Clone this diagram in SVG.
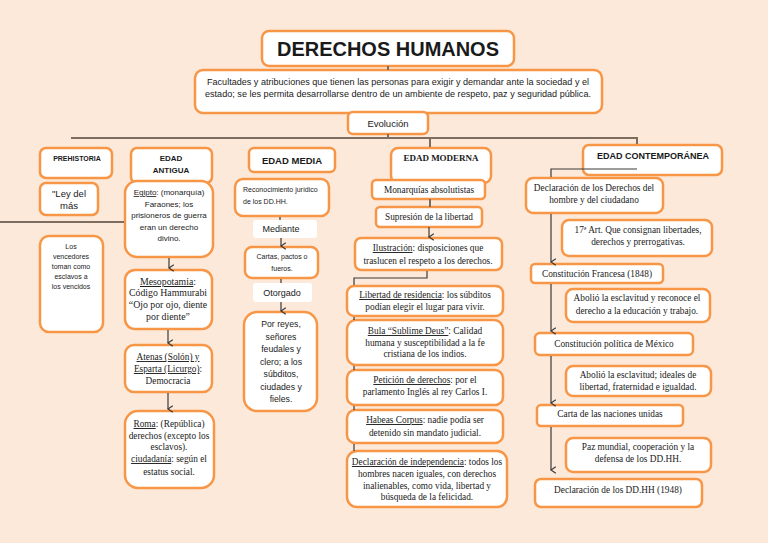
<svg xmlns="http://www.w3.org/2000/svg" width="768" height="543" viewBox="0 0 768 543">
<defs>
<style>
.b{fill:#fff;stroke:#f79646;stroke-width:2.5}
.lb{fill:#fff;stroke:none}
.s{font-family:"Liberation Sans",Arial,sans-serif;fill:#1a1a1a;text-anchor:middle}
.r{font-family:"Liberation Serif","Times New Roman",serif;fill:#1a1a1a;text-anchor:middle;font-size:9.3px}
.u{text-decoration:underline}
.m{stroke:#7d6d60;stroke-width:2;fill:none}
.k{stroke:#3a3a3a;stroke-width:1.2;fill:none}
</style>
<marker id="v" viewBox="0 0 10 10" refX="5" refY="9" markerWidth="8" markerHeight="8" markerUnits="userSpaceOnUse" orient="auto-start-reverse">
<path d="M1,3 L5,9 L9,3" fill="none" stroke="#3a3a3a" stroke-width="1.5"/>
</marker>
</defs>
<rect width="768" height="543" fill="#fde9d9"/>

<g id="titulo"><rect class="b" x="262" y="31" width="252" height="35" rx="7"/><text class="s" x="388" y="56" font-size="21" font-weight="bold" textLength="222" lengthAdjust="spacingAndGlyphs">DERECHOS HUMANOS</text></g>
<g id="definicion"><rect class="b" x="195" y="70" width="407" height="43" rx="8"/><text class="s" font-size="9"><tspan x="398" y="85" textLength="382" lengthAdjust="spacingAndGlyphs">Facultades y atribuciones que tienen las personas para exigir y demandar ante la sociedad y el</tspan><tspan x="398" y="97" textLength="386" lengthAdjust="spacingAndGlyphs">estado; se les permita desarrollarse dentro de un ambiente de respeto, paz y seguridad pública.</tspan></text></g>
<g id="evolucion"><rect class="b" x="348" y="112" width="80" height="22" rx="5"/><text class="s" x="388" y="127" font-size="9.5">Evolución</text></g>

<g id="prehistoria"><rect class="b" x="40" y="148" width="72" height="30" rx="6"/><text class="s" x="77" y="161" font-size="7" font-weight="bold">PREHISTORIA</text></g>
<g id="ley"><rect class="b" x="40" y="183" width="58" height="32" rx="6"/><text class="s" font-size="9.5"><tspan x="69" y="197">"Ley del</tspan><tspan x="69" y="209">más</tspan></text></g>
<g id="vencedores"><rect class="b" x="40" y="236" width="63" height="96" rx="9"/><text class="s" font-size="7"><tspan x="71" y="249">Los</tspan><tspan x="71" y="259">vencedores</tspan><tspan x="71" y="269">toman como</tspan><tspan x="71" y="279">esclavos a</tspan><tspan x="71" y="289">los vencidos</tspan></text></g>

<g id="antigua"><rect class="b" x="131" y="148" width="81" height="35" rx="6"/><text class="s" font-size="8" font-weight="bold"><tspan x="171" y="161">EDAD</tspan><tspan x="171" y="173">ANTIGUA</tspan></text></g>
<g id="egipto"><rect class="b" x="125" y="181" width="88" height="76" rx="12"/><text class="s" font-size="8"><tspan x="169" y="195"><tspan class="u">Egipto</tspan>: (monarquía)</tspan><tspan x="169" y="207">Faraones; los</tspan><tspan x="169" y="218">prisioneros de guerra</tspan><tspan x="169" y="230">eran un derecho</tspan><tspan x="169" y="241">divino.</tspan></text></g>
<g id="mesopotamia"><rect class="b" x="125" y="270" width="87" height="59" rx="10"/><text class="r" style="font-size:9.8px"><tspan x="168" y="285"><tspan class="u">Mesopotamia</tspan>:</tspan><tspan x="168" y="296">Código Hammurabi</tspan><tspan x="168" y="308">“Ojo por ojo, diente</tspan><tspan x="168" y="320">por diente”</tspan></text></g>
<g id="atenas"><rect class="b" x="125" y="345" width="87" height="47" rx="9"/><text class="r"><tspan x="168" y="360" class="u">Atenas (Solón) y</tspan><tspan x="168" y="372"><tspan class="u">Esparta (Licurgo)</tspan>:</tspan><tspan x="168" y="384">Democracia</tspan></text></g>
<g id="roma"><rect class="b" x="125" y="411" width="89" height="77" rx="13"/><text class="r"><tspan x="169" y="427"><tspan class="u">Roma</tspan>: (República)</tspan><tspan x="169" y="439">derechos (excepto los</tspan><tspan x="169" y="450">esclavos).</tspan><tspan x="169" y="462"><tspan class="u">ciudadanía</tspan>: según el</tspan><tspan x="169" y="475">estatus social.</tspan></text></g>

<g id="media"><rect class="b" x="249" y="148" width="86" height="24" rx="5"/><text class="s" x="292" y="164" font-size="9.5" font-weight="bold">EDAD MEDIA</text></g>
<g id="reconocimiento"><rect class="b" x="235" y="179" width="94" height="37" rx="8"/><text class="s" font-size="7" style="text-anchor:start"><tspan x="243" y="192">Reconocimiento jurídico</tspan><tspan x="243" y="204">de los DD.HH.</tspan></text></g>
<g id="mediante"><rect class="lb" x="253" y="220" width="64" height="18" rx="3"/><text class="s" x="281" y="232" font-size="9">Mediante</text></g>
<g id="cartas"><rect class="b" x="245" y="247" width="73" height="31" rx="7"/><text class="s" font-size="7"><tspan x="282" y="259">Cartas, pactos o</tspan><tspan x="282" y="271">fueros.</tspan></text></g>
<g id="otorgado"><rect class="lb" x="253" y="283" width="59" height="19" rx="3"/><text class="s" x="282" y="296" font-size="9">Otorgado</text></g>
<g id="reyes"><rect class="b" x="244" y="312" width="73" height="99" rx="13"/><text class="s" font-size="8.7"><tspan x="281" y="327">Por reyes,</tspan><tspan x="281" y="340">señores</tspan><tspan x="281" y="352">feudales y</tspan><tspan x="281" y="365">clero; a los</tspan><tspan x="281" y="377">súbditos,</tspan><tspan x="281" y="390">ciudades y</tspan><tspan x="281" y="402">fieles.</tspan></text></g>

<g id="moderna"><rect class="b" x="391" y="148" width="100" height="35" rx="7"/><text class="r" x="441" y="161" style="font-size:9px" font-weight="bold">EDAD MODERNA</text></g>
<g id="monarquias"><rect class="b" x="372" y="180" width="113" height="19" rx="4"/><text class="r" x="429" y="193">Monarquías absolutistas</text></g>
<g id="supresion"><rect class="b" x="376" y="207" width="106" height="20" rx="4"/><text class="r" x="429" y="220">Supresión de la libertad</text></g>
<g id="ilustracion"><rect class="b" x="355" y="238" width="147" height="32" rx="6"/><text class="r"><tspan x="428" y="251"><tspan class="u">Ilustración</tspan>: disposiciones que</tspan><tspan x="428" y="264">traslucen el respeto a los derechos.</tspan></text></g>
<g id="residencia"><rect class="b" x="347" y="286" width="156" height="30" rx="7"/><text class="r"><tspan x="425" y="298"><tspan class="u">Libertad de residencia</tspan>: los súbditos</tspan><tspan x="425" y="310">podían elegir el lugar para vivir.</tspan></text></g>
<g id="bula"><rect class="b" x="347" y="320" width="156" height="45" rx="9"/><text class="r"><tspan x="425" y="334"><tspan class="u">Bula “Sublime Deus”</tspan>: Calidad</tspan><tspan x="425" y="346">humana y susceptibilidad a la fe</tspan><tspan x="425" y="357">cristiana de los indios.</tspan></text></g>
<g id="peticion"><rect class="b" x="347" y="370" width="156" height="35" rx="8"/><text class="r"><tspan x="425" y="383"><tspan class="u">Petición de derechos</tspan>: por el</tspan><tspan x="425" y="395">parlamento Inglés al rey Carlos I.</tspan></text></g>
<g id="habeas"><rect class="b" x="347" y="410" width="156" height="33" rx="8"/><text class="r"><tspan x="425" y="423"><tspan class="u">Habeas Corpus</tspan>: nadie podía ser</tspan><tspan x="425" y="436">detenido sin mandato judicial.</tspan></text></g>
<g id="independencia"><rect class="b" x="347" y="451" width="160" height="56" rx="10"/><text class="r"><tspan x="427" y="465"><tspan class="u">Declaración de independencia</tspan>: todos los</tspan><tspan x="427" y="477">hombres nacen iguales, con derechos</tspan><tspan x="427" y="489">inalienables, como vida, libertad y</tspan><tspan x="427" y="500">búsqueda de la felicidad.</tspan></text></g>

<g id="contemporanea"><rect class="b" x="583" y="145" width="139" height="30" rx="6"/><text class="s" x="653" y="159" font-size="9" font-weight="bold">EDAD CONTEMPORÁNEA</text></g>
<g id="declaracion-hombre"><rect class="b" x="526" y="178" width="137" height="35" rx="7"/><text class="r"><tspan x="594" y="191">Declaración de los Derechos del</tspan><tspan x="594" y="203">hombre y del ciudadano</tspan></text></g>
<g id="art17"><rect class="b" x="562" y="220" width="150" height="36" rx="7"/><text class="r"><tspan x="638" y="233">17ª Art. Que consignan libertades,</tspan><tspan x="638" y="245">derechos y prerrogativas.</tspan></text></g>
<g id="francesa"><rect class="b" x="531" y="264" width="132" height="19" rx="4"/><text class="r" x="597" y="277">Constitución Francesa (1848)</text></g>
<g id="abolio1"><rect class="b" x="566" y="289" width="144" height="33" rx="7"/><text class="r"><tspan x="637" y="301">Abolió la esclavitud y reconoce el</tspan><tspan x="637" y="314">derecho a la educación y trabajo.</tspan></text></g>
<g id="mexico"><rect class="b" x="535" y="333" width="158" height="22" rx="5"/><text class="r" x="614" y="347">Constitución política de México</text></g>
<g id="abolio2"><rect class="b" x="566" y="366" width="145" height="30" rx="7"/><text class="r"><tspan x="638" y="378">Abolió la esclavitud; ideales de</tspan><tspan x="638" y="390">libertad, fraternidad e igualdad.</tspan></text></g>
<g id="carta"><rect class="b" x="537" y="405" width="146" height="21" rx="4"/><text class="r" x="610" y="417">Carta de las naciones unidas</text></g>
<g id="paz"><rect class="b" x="566" y="438" width="145" height="34" rx="7"/><text class="r"><tspan x="638" y="450">Paz mundial, cooperación y la</tspan><tspan x="638" y="462">defensa de los DD.HH.</tspan></text></g>
<g id="declaracion1948"><rect class="b" x="535" y="479" width="167" height="28" rx="6"/><text class="r" x="618" y="493">Declaración de los DD.HH (1948)</text></g>

<g id="connectors">
<line class="m" x1="388" y1="66" x2="388" y2="70"/>
<line class="m" x1="388" y1="134" x2="388" y2="138"/>
<line class="m" x1="71" y1="138" x2="638" y2="138"/>
<line class="m" x1="430" y1="138" x2="430" y2="147"/>
<line class="m" x1="637" y1="138" x2="637" y2="144"/>
<line class="m" x1="0" y1="222" x2="124" y2="222"/>
<line class="m" x1="430" y1="199" x2="430" y2="207" stroke-width="1.5"/>
<line class="k" x1="429" y1="227" x2="429" y2="237" marker-end="url(#v)"/>
<polyline class="k" points="427,271 427,278 354,278 354,285"/>
<line class="k" x1="354" y1="317" x2="354" y2="320"/>
<line class="k" x1="354" y1="366" x2="354" y2="370"/>
<line class="k" x1="354" y1="406" x2="354" y2="410"/>
<line class="k" x1="354" y1="444" x2="354" y2="451"/>
<line class="k" x1="169" y1="258" x2="169" y2="268" marker-end="url(#v)"/>
<line class="k" x1="168" y1="330" x2="168" y2="343" marker-end="url(#v)"/>
<line class="k" x1="168" y1="393" x2="168" y2="409" marker-end="url(#v)"/>
<line class="k" x1="280" y1="217" x2="280" y2="220"/>
<line class="k" x1="281" y1="238" x2="281" y2="246" marker-end="url(#v)"/>
<line class="k" x1="281" y1="279" x2="281" y2="283"/>
<line class="k" x1="281" y1="302" x2="281" y2="311" marker-end="url(#v)"/>
<polyline class="k" points="637,169 551,169 551,177"/>
<line class="k" x1="551" y1="214" x2="551" y2="262" marker-end="url(#v)"/>
<line class="k" x1="551" y1="284" x2="551" y2="331" marker-end="url(#v)"/>
<line class="k" x1="551" y1="356" x2="551" y2="403" marker-end="url(#v)"/>
<line class="k" x1="551" y1="427" x2="551" y2="470" marker-end="url(#v)"/>
</g>
</svg>
